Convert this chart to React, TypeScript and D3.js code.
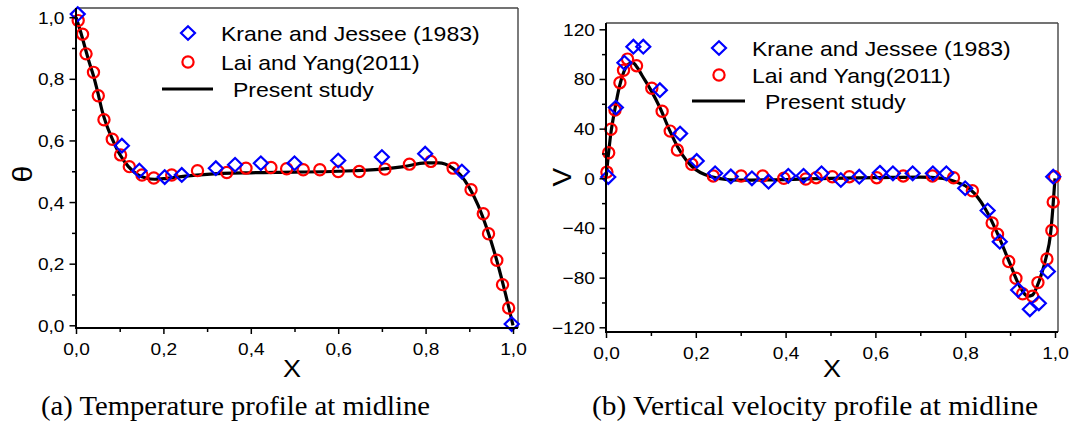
import React, { useEffect, useRef } from "react";
import * as d3 from "d3";

// ---------- Data: panel (a) temperature ----------
const kjThetaX = [0.004, 0.105, 0.145, 0.203, 0.242, 0.32, 0.364, 0.423, 0.5, 0.6, 0.7, 0.799, 0.883, 0.997];
const kjThetaY = [1.01, 0.583, 0.502, 0.481, 0.488, 0.51, 0.521, 0.526, 0.526, 0.535, 0.546, 0.557, 0.499, 0.004];

const lyThetaX = [0.005, 0.015, 0.023, 0.04, 0.051, 0.064, 0.083, 0.102, 0.122, 0.151, 0.178, 0.219, 0.278, 0.345, 0.389, 0.446, 0.482, 0.52, 0.558, 0.6, 0.648, 0.707, 0.763, 0.812, 0.863, 0.904, 0.932, 0.944, 0.963, 0.976, 0.99];
const lyThetaY = [0.989, 0.945, 0.881, 0.821, 0.745, 0.667, 0.604, 0.553, 0.515, 0.488, 0.478, 0.488, 0.502, 0.496, 0.51, 0.512, 0.508, 0.505, 0.505, 0.499, 0.499, 0.507, 0.523, 0.532, 0.51, 0.44, 0.362, 0.297, 0.211, 0.132, 0.056];

const psThetaX = [0, 0.01, 0.02, 0.03, 0.04, 0.05, 0.06, 0.07, 0.08, 0.1, 0.12, 0.14, 0.16, 0.18, 0.2, 0.25, 0.3, 0.4, 0.5, 0.6, 0.7, 0.75, 0.8, 0.83, 0.86, 0.88, 0.9, 0.92, 0.94, 0.96, 0.98, 1.0];
const psThetaY = [1.0, 0.955, 0.905, 0.855, 0.81, 0.755, 0.695, 0.65, 0.615, 0.555, 0.515, 0.49, 0.478, 0.474, 0.476, 0.484, 0.49, 0.495, 0.497, 0.5, 0.507, 0.515, 0.527, 0.527, 0.512, 0.488, 0.447, 0.39, 0.315, 0.225, 0.118, 0.0];

// ---------- Data: panel (b) vertical velocity ----------
const kjVX = [0.005, 0.022, 0.041, 0.061, 0.083, 0.12, 0.165, 0.202, 0.243, 0.278, 0.325, 0.362, 0.406, 0.44, 0.48, 0.523, 0.564, 0.61, 0.639, 0.683, 0.728, 0.758, 0.8, 0.85, 0.877, 0.918, 0.944, 0.964, 0.984, 0.996];
const kjVY = [1, 57, 93, 106, 106, 71, 36, 14, 4, 1.5, 0, -2.7, 2, 2, 4, -1.4, 1.3, 4.5, 4, 4, 4, 4, -8, -26, -51, -90, -105.5, -100.7, -75, 1.3];

const lyVX = [0.002, 0.006, 0.011, 0.02, 0.031, 0.039, 0.048, 0.068, 0.102, 0.125, 0.143, 0.159, 0.191, 0.239, 0.301, 0.349, 0.396, 0.445, 0.468, 0.504, 0.542, 0.603, 0.662, 0.727, 0.774, 0.816, 0.86, 0.872, 0.897, 0.913, 0.928, 0.95, 0.962, 0.982, 0.993, 0.996, 0.999];
const lyVY = [5, 20.6, 39.5, 55, 77, 87, 96, 90.7, 72.5, 54, 38, 22.8, 11.3, 1.9, 1.9, 1.9, 0, -0.6, 0.5, 1.3, 1.3, 0.5, 1.9, 1.9, 0.5, -10, -36, -45, -67, -80.5, -93, -95, -84, -65, -42, -19, 1.3];

const psVX = [0, 0.005, 0.01, 0.02, 0.03, 0.04, 0.05, 0.06, 0.07, 0.08, 0.1, 0.12, 0.14, 0.16, 0.18, 0.2, 0.22, 0.25, 0.3, 0.4, 0.5, 0.6, 0.7, 0.75, 0.78, 0.8, 0.82, 0.85, 0.87, 0.9, 0.92, 0.94, 0.95, 0.96, 0.97, 0.98, 0.99, 0.995, 1.0];
const psVY = [0, 18, 34, 56, 74, 86, 92, 93, 89, 83, 71, 57, 40, 25, 14, 7, 3, 0, -1.5, -1, 0, 0.5, 1, 0, -3, -6, -12, -28, -43, -69, -86, -95, -94, -87, -77, -64, -45, -25, 0];

// ---------- Ticks / labels ----------
const xMajor = [0, 0.2, 0.4, 0.6, 0.8, 1.0];
const xMinor = [0.1, 0.3, 0.5, 0.7, 0.9];
const thetaMajor = [0, 0.2, 0.4, 0.6, 0.8, 1.0];
const thetaMinor = [0.1, 0.3, 0.5, 0.7, 0.9];
const vMajor = [-120, -80, -40, 0, 40, 80, 120];
const vMinor = [-100, -60, -20, 20, 60, 100];
const legendLabels = ["Krane and Jessee (1983)", "Lai and Yang(2011)", "Present study"];
const captions = ["(a) Temperature profile at midline", "(b) Vertical velocity profile at midline"];

const SX = 1.125;
const SANS = "Liberation Sans, Arimo, Arial, sans-serif";
const SERIF = "Liberation Serif, Tinos, Times New Roman, serif";
const BLUE = "#0000ff";
const RED = "#ff0000";

const commaFmt = (v: number) => d3.format(".1f")(v).replace(".", ",");
const intFmt = (v: number) => d3.format("d")(v);

function ST({ x, y, size, family = SANS, anchor = "start", children, rotate = 0, len }: any) {
  const extra: any = {};
  if (len) {
    extra.textLength = len / SX;
    extra.lengthAdjust = "spacingAndGlyphs";
  }
  return (
    <text
      transform={`translate(${x},${y}) rotate(${rotate}) scale(${SX},1)`}
      textAnchor={anchor}
      fill="#000"
      style={{ fontFamily: family, fontSize: `${size}px` }}
      {...extra}
    >
      {children}
    </text>
  );
}

function Diamond({ cx, cy }: { cx: number; cy: number }) {
  const w = 7, h = 6.8;
  return (
    <path
      d={`M${cx},${cy - h}L${cx + w},${cy}L${cx},${cy + h}L${cx - w},${cy}Z`}
      fill="none"
      stroke={BLUE}
      strokeWidth={2.2}
    />
  );
}

function Panel(props: any) {
  const { frame, xRange, yDomain, yRange, yMajor, yMinor, yFmt, kjX, kjY, lyX, lyY, psX, psY, legend, yLabel, yLabelPos, yLabelSize, xLabelPos, caption, captionPos, captionLen, labelGap } = props;
  const xAxisRef = useRef<SVGGElement>(null);
  const yAxisRef = useRef<SVGGElement>(null);

  const x = d3.scaleLinear().domain([0, 1]).range(xRange);
  const y = d3.scaleLinear().domain(yDomain).range(yRange);

  useEffect(() => {
    const gx = d3.select(xAxisRef.current as SVGGElement);
    gx.selectAll("*").remove();
    const major = gx.append("g").call(
      d3.axisBottom(x).tickValues(xMajor).tickSize(6).tickSizeOuter(0).tickFormat((d: any) => commaFmt(d))
    );
    const minor = gx.append("g").call(
      d3.axisBottom(x).tickValues(xMinor).tickSize(4).tickSizeOuter(0).tickFormat(() => "")
    );
    [major, minor].forEach((g) => {
      g.attr("font-family", null).attr("font-size", null);
      g.select(".domain").remove();
      g.selectAll("line").attr("stroke", "#000").attr("stroke-width", 1.5);
    });
    major
      .selectAll("text")
      .attr("y", 27)
      .attr("dy", 0)
      .attr("fill", "#000")
      .style("font-size", "17px")
      .style("font-family", SANS)
      .attr("transform", `scale(${SX},1)`);

    const gy = d3.select(yAxisRef.current as SVGGElement);
    gy.selectAll("*").remove();
    const ymaj = gy.append("g").call(
      d3.axisLeft(y).tickValues(yMajor).tickSize(6.5).tickSizeOuter(0).tickFormat((d: any) => yFmt(d))
    );
    const ymin = gy.append("g").call(
      d3.axisLeft(y).tickValues(yMinor).tickSize(4).tickSizeOuter(0).tickFormat(() => "")
    );
    [ymaj, ymin].forEach((g) => {
      g.attr("font-family", null).attr("font-size", null);
      g.select(".domain").remove();
      g.selectAll("line").attr("stroke", "#000").attr("stroke-width", 1.5);
    });
    ymaj
      .selectAll("text")
      .attr("x", -labelGap / SX)
      .attr("dy", "0.35em")
      .attr("fill", "#000")
      .style("font-size", "17px")
      .style("font-family", SANS)
      .attr("transform", `scale(${SX},1)`);
  });

  const line = d3
    .line<number>()
    .x((_, i) => x(psX[i]))
    .y((_, i) => y(psY[i]))
    .curve(d3.curveMonotoneX);

  return (
    <g>
      <line x1={frame.l} x2={frame.r} y1={frame.t} y2={frame.t} stroke="#444" strokeWidth={1.4} />
      <line x1={frame.r} x2={frame.r} y1={frame.t} y2={frame.b} stroke="#444" strokeWidth={1.4} />
      <path d={line(psY) || ""} fill="none" stroke="#000" strokeWidth={3.2} />
      {lyX.map((v: number, i: number) => (
        <circle key={"c" + i} cx={x(v)} cy={y(lyY[i])} r={5.6} fill="none" stroke={RED} strokeWidth={2.2} />
      ))}
      {kjX.map((v: number, i: number) => (
        <Diamond key={"d" + i} cx={x(v)} cy={y(kjY[i])} />
      ))}
      <line x1={frame.l} x2={frame.l} y1={frame.t} y2={frame.b + 1} stroke="#000" strokeWidth={2} />
      <line x1={frame.l - 1} x2={frame.r} y1={frame.b} y2={frame.b} stroke="#000" strokeWidth={2} />
      <g ref={xAxisRef} transform={`translate(0,${frame.b})`} />
      <g ref={yAxisRef} transform={`translate(${frame.l},0)`} />
      <Diamond cx={legend.mx} cy={legend.y0} />
      <circle cx={legend.mx} cy={legend.y1} r={5.6} fill="none" stroke={RED} strokeWidth={2.2} />
      <line x1={legend.lx0} x2={legend.lx1} y1={legend.y2} y2={legend.y2} stroke="#000" strokeWidth={3.2} />
      <ST x={legend.tx} y={legend.y0 + 7.5} size={20.5}>{legendLabels[0]}</ST>
      <ST x={legend.tx} y={legend.y1 + 7.5} size={20.5}>{legendLabels[1]}</ST>
      <ST x={legend.tx2} y={legend.y2 + 8} size={20.5}>{legendLabels[2]}</ST>
      <ST x={yLabelPos[0]} y={yLabelPos[1]} size={yLabelSize} anchor="middle" rotate={-90}>{yLabel}</ST>
      <ST x={xLabelPos[0]} y={xLabelPos[1]} size={24} anchor="middle">X</ST>
      <ST x={captionPos[0]} y={captionPos[1]} size={27} family={SERIF} len={captionLen}>{caption}</ST>
    </g>
  );
}

export default function App() {
  return (
    <svg
      width={1085}
      height={422}
      style={{ position: "absolute", left: 0, top: 0, background: "#fff", display: "block" }}
    >
      <rect x={0} y={0} width={1085} height={422} fill="#fff" />
      <Panel
        frame={{ l: 76, t: 8, r: 518, b: 328 }}
        xRange={[76, 513]}
        yDomain={[0, 1]}
        yRange={[325.3, 17.2]}
        yMajor={thetaMajor}
        yMinor={thetaMinor}
        yFmt={commaFmt}
        labelGap={11.5}
        kjX={kjThetaX}
        kjY={kjThetaY}
        lyX={lyThetaX}
        lyY={lyThetaY}
        psX={psThetaX}
        psY={psThetaY}
        legend={{ mx: 188, y0: 33, y1: 62, y2: 89, lx0: 162, lx1: 213, tx: 221, tx2: 233 }}
        yLabel="θ"
        yLabelSize={27}
        yLabelPos={[32, 174]}
        xLabelPos={[292, 377]}
        caption={captions[0]}
        captionPos={[41, 415]}
        captionLen={389}
      />
      <Panel
        frame={{ l: 606, t: 23, r: 1058, b: 332 }}
        xRange={[606, 1055]}
        yDomain={[-120, 120]}
        yRange={[327.3, 29.3]}
        yMajor={vMajor}
        yMinor={vMinor}
        yFmt={intFmt}
        labelGap={11}
        kjX={kjVX}
        kjY={kjVY}
        lyX={lyVX}
        lyY={lyVY}
        psX={psVX}
        psY={psVY}
        legend={{ mx: 719, y0: 48, y1: 75, y2: 101, lx0: 692, lx1: 745, tx: 752, tx2: 765 }}
        yLabel="V"
        yLabelSize={25}
        yLabelPos={[571, 177]}
        xLabelPos={[832, 377]}
        caption={captions[1]}
        captionPos={[592, 415]}
        captionLen={446}
      />
    </svg>
  );
}
